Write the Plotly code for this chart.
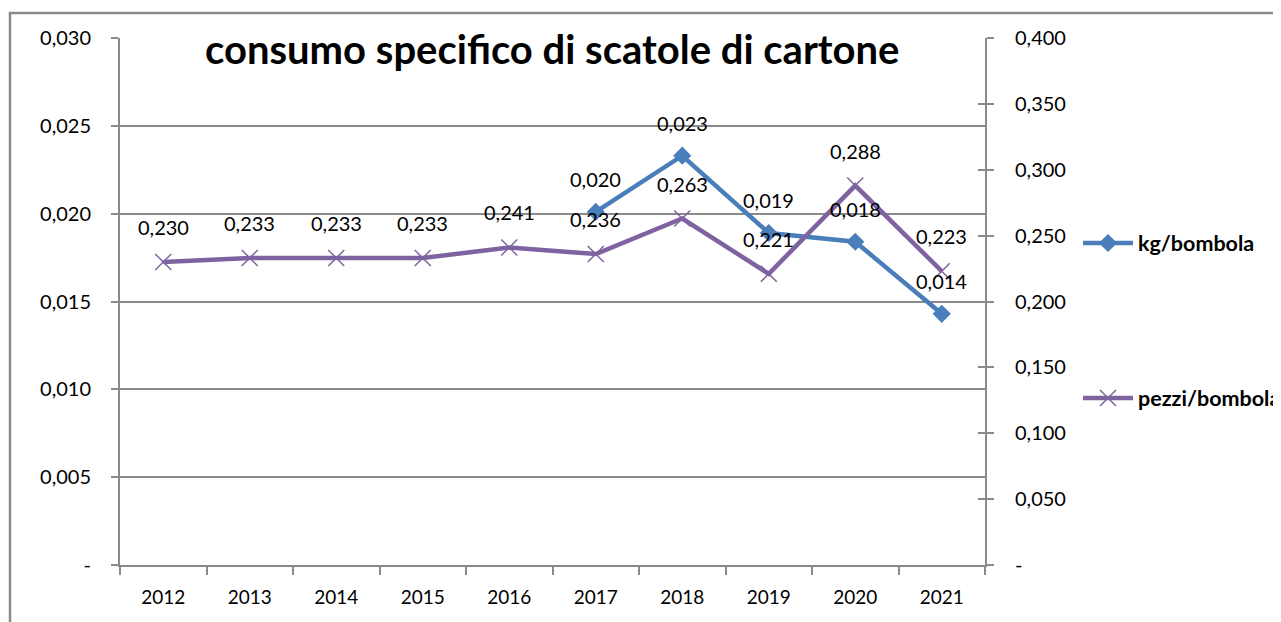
import plotly.graph_objects as go

# ---- data ----
years = ["2012", "2013", "2014", "2015", "2016", "2017", "2018", "2019", "2020", "2021"]
kg_per_bombola = [None, None, None, None, None, 0.0201, 0.0233, 0.0189, 0.0184, 0.0143]
pezzi_per_bombola = [0.230, 0.233, 0.233, 0.233, 0.241, 0.236, 0.263, 0.221, 0.288, 0.223]
left_ticks = [0.0, 0.005, 0.010, 0.015, 0.020, 0.025, 0.030]
right_ticks = [0.0, 0.050, 0.100, 0.150, 0.200, 0.250, 0.300, 0.350, 0.400]
title_text = "consumo specifico di scatole di cartone"
series_names = ["kg/bombola", "pezzi/bombola"]


def fmt(v):
    return "-" if v == 0 else f"{v:.3f}".replace(".", ",")


BLUE = "#4A7EBB"
PURPLE = "#7F63A1"
GRID = "#8a8a8a"
FONT = "Lato"

OFF = 8  # page body margin
W, H = 1281 - OFF, 622 - OFF
L, T = 120 - OFF, 38 - OFF
PR, PB = 985 - OFF, 565 - OFF
R, B = W - PR, H - PB
pw, ph = W - L - R, H - T - B


def px(xs):
    return (xs - OFF - L) / pw


def py(ys):
    return 1 - (ys - OFF - T) / ph


fig = go.Figure()

fig.add_trace(go.Scatter(
    x=years, y=kg_per_bombola, name=series_names[0], yaxis="y",
    mode="lines+markers", line=dict(color=BLUE, width=4.5),
    marker=dict(symbol="diamond", size=14, color=BLUE),
    legend="legend", connectgaps=False,
))
fig.add_trace(go.Scatter(
    x=years, y=pezzi_per_bombola, name=series_names[1], yaxis="y2",
    mode="lines+markers", line=dict(color=PURPLE, width=4.5),
    marker=dict(symbol="x-thin", size=16, color=PURPLE,
                line=dict(color=PURPLE, width=1.5)),
    legend="legend2",
))
# empty traces so the cross-tick helper axes are drawn
fig.add_trace(go.Scatter(x=[], y=[], yaxis="y3", showlegend=False, hoverinfo="skip"))
fig.add_trace(go.Scatter(x=[], y=[], yaxis="y4", showlegend=False, hoverinfo="skip"))

label_font = dict(family=FONT, size=20, color="#000")
annotations = []
for i, v in enumerate(kg_per_bombola):
    if v is not None:
        annotations.append(dict(x=i, y=v, xref="x", yref="y", text=fmt(v),
                                showarrow=False, yshift=33, font=label_font))
for i, v in enumerate(pezzi_per_bombola):
    annotations.append(dict(x=i, y=v, xref="x", yref="y2", text=fmt(v),
                            showarrow=False, yshift=35, font=label_font))
annotations.append(dict(x=px(552), y=py(49), xref="paper", yref="paper",
                        text=f"<b>{title_text}</b>", showarrow=False,
                        xanchor="center", yanchor="middle",
                        font=dict(family=FONT, size=40, color="#000")))

legend_font = dict(family=FONT, size=21.5, color="#000", weight="bold")

fig.update_layout(
    width=W, height=H,
    margin=dict(l=L, r=R, t=T, b=B, autoexpand=False),
    paper_bgcolor="white", plot_bgcolor="white",
    font=dict(family=FONT, size=20, color="#000"),
    xaxis=dict(type="category", range=[-0.5, len(years) - 0.5], tickson="boundaries",
               ticks="outside", ticklen=8, tickcolor=GRID, tickwidth=1.5,
               showline=True, linecolor=GRID, linewidth=2, showgrid=False,
               tickfont=dict(family=FONT, size=19), ticklabelstandoff=14),
    yaxis=dict(range=[0, 0.030], tickvals=left_ticks, ticktext=[fmt(v) for v in left_ticks],
               ticks="outside", ticklen=7, tickcolor=GRID, tickwidth=1.5,
               showline=True, linecolor=GRID, linewidth=2,
               showgrid=True, gridcolor=GRID, gridwidth=1.5, zeroline=False,
               tickfont=dict(family=FONT, size=20), ticklabelstandoff=16),
    yaxis2=dict(range=[0, 0.400], overlaying="y", side="right", anchor="x",
                tickvals=right_ticks, ticktext=[fmt(v) for v in right_ticks],
                ticks="outside", ticklen=7, tickcolor=GRID, tickwidth=1.5,
                showline=True, linecolor=GRID, linewidth=2,
                showgrid=False, zeroline=False,
                tickfont=dict(family=FONT, size=20), ticklabelstandoff=17),
    yaxis3=dict(range=[0, 0.030], overlaying="y", side="left", anchor="x",
                tickvals=left_ticks, ticks="inside", ticklen=7, tickcolor=GRID, tickwidth=1.5,
                showticklabels=False, showgrid=False, zeroline=False, showline=False),
    yaxis4=dict(range=[0, 0.400], overlaying="y", side="right", anchor="x",
                tickvals=right_ticks, ticks="inside", ticklen=7, tickcolor=GRID, tickwidth=1.5,
                showticklabels=False, showgrid=False, zeroline=False, showline=False),
    legend=dict(x=px(1078), y=py(243), xanchor="left", yanchor="middle",
                bgcolor="rgba(0,0,0,0)", itemwidth=50, font=legend_font),
    legend2=dict(x=px(1078), y=py(398), xanchor="left", yanchor="middle",
                 bgcolor="rgba(0,0,0,0)", itemwidth=50, font=legend_font),
    annotations=annotations,
    shapes=[dict(type="rect", xref="paper", yref="paper",
                 x0=px(10), x1=px(1320),
                 y0=py(680), y1=py(13),
                 line=dict(color=GRID, width=2.5), fillcolor="rgba(0,0,0,0)", layer="below")],
    showlegend=True,
)

fig.write_html("out.html")
